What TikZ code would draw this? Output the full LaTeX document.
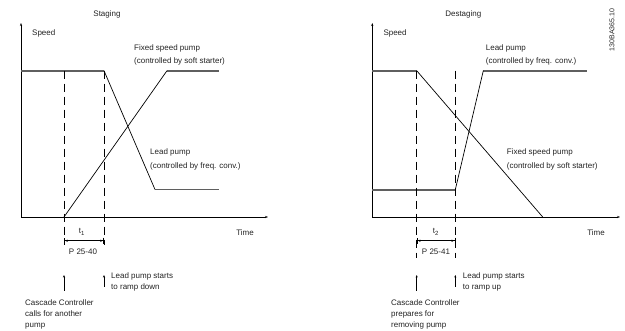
\documentclass[tikz,border=0pt]{standalone}
\usepackage{fontspec}
\setmainfont{Liberation Sans}
\usetikzlibrary{arrows.meta}
\definecolor{flatgray}{RGB}{95,95,95}
\definecolor{txt}{RGB}{35,35,35}
\tikzset{
  axis/.style={line width=0.8pt,-{Stealth[length=3pt,width=2.2pt]}},
  flat/.style={line width=1.7pt,flatgray},
  ramp/.style={line width=0.7pt,black},
  dashv/.style={line width=0.8pt,dash pattern=on 8pt off 5pt},
  dim/.style={line width=0.7pt,{Bar[width=6pt]Latex[length=3pt,width=2.4pt]}-{Latex[length=3pt,width=2.4pt]Bar[width=6pt]}},
  upar/.style={line width=0.6pt,-{Stealth[length=2.5pt,width=2pt]}},
  lbl/.style={inner sep=0pt,text=txt,font=\fontsize{8}{13.5}\selectfont,align=left},
  lbls/.style={inner sep=0pt,text=txt,font=\fontsize{8}{11}\selectfont,align=left},
}
\begin{document}
\begin{tikzpicture}[x=1pt,y=-1pt]
\useasboundingbox (0,0) rectangle (625,331);
% ---------- Staging ----------
\coordinate (O1) at (21,217);
\coordinate (Y1) at (21,23);
\coordinate (X1) at (268,217);
\draw[axis] (O1) -- (Y1);
\draw[axis] (O1) -- (X1);
\coordinate (a1) at (21,70.7);
\coordinate (a2) at (104,70.7);
\coordinate (a3) at (155,189.5);
\coordinate (a4) at (219,189.5);
\coordinate (b1) at (64,217);
\coordinate (b2) at (167,70.7);
\coordinate (b3) at (219,70.7);
\draw[flat] (a1) -- (a2);
\draw[flat] (b2) -- (b3);
\draw[flat] (a3) -- (a4);
\draw[ramp] (a2) -- (a3);
\draw[ramp] (b1) -- (b2);
\coordinate (d1t) at (64,70.7);
\coordinate (d1b) at (64,245);
\coordinate (d2t) at (104,70.7);
\coordinate (d2b) at (104,245);
\draw[dashv] (d1t) -- (d1b);
\draw[dashv] (d2t) -- (d2b);
\coordinate (m1) at (64,240.7);
\coordinate (m2) at (104,240.7);
\draw[dim] (m1) -- (m2);
\node[lbl] (t1) at (82,232) {t\textsubscript{1}};
\node[lbl] (p1) at (83,251.5) {P 25-40};
\node[lbl] (st) at (107,14) {Staging};
\node[lbl,anchor=west] (sp1) at (32,33) {Speed};
\node[lbl] (ti1) at (245,233) {Time};
\node[lbl,anchor=west] (fx1) at (134,55) {Fixed speed pump\\(controlled by soft starter)};
\node[lbl,anchor=west] (ld1) at (150,159.5) {Lead pump\\(controlled by freq. conv.)};
\coordinate (u1b) at (64,291);
\coordinate (u1t) at (64,275);
\coordinate (u2b) at (104,287);
\coordinate (u2t) at (104,275);
\draw[upar] (u1b) -- (u1t);
\draw[upar] (u2b) -- (u2t);
\node[lbls,anchor=west] (ls1) at (111,281.5) {Lead pump starts\\to ramp down};
\node[lbls,anchor=west] (cc1) at (25,314) {Cascade Controller\\calls for another\\pump};
% ---------- Destaging ----------
\coordinate (O2) at (372.3,217);
\coordinate (Y2) at (372.3,23);
\coordinate (X2) at (620,217);
\draw[axis] (O2) -- (Y2);
\draw[axis] (O2) -- (X2);
\coordinate (c1) at (372.3,70.7);
\coordinate (c2) at (416.7,70.7);
\coordinate (c3) at (542.7,217);
\coordinate (e1) at (372.3,189.7);
\coordinate (e2) at (455.3,189.7);
\coordinate (e3) at (483.3,70.7);
\coordinate (e4) at (587.3,70.7);
\draw[flat] (c1) -- (c2);
\draw[flat] (e1) -- (e2);
\draw[flat] (e3) -- (e4);
\draw[ramp] (c2) -- (c3);
\draw[ramp] (e2) -- (e3);
\coordinate (d3t) at (416.7,70.7);
\coordinate (d3b) at (416.7,258);
\coordinate (d4t) at (455.3,70.7);
\coordinate (d4b) at (455.3,258);
\draw[dashv] (d3t) -- (d3b);
\draw[dashv] (d4t) -- (d4b);
\coordinate (m3) at (416.7,240.7);
\coordinate (m4) at (455.3,240.7);
\draw[dim] (m3) -- (m4);
\node[lbl,fill=white,inner sep=1pt] (t2) at (436,232) {t\textsubscript{2}};
\node[lbl,fill=white,inner sep=1pt] (p2) at (436,251.5) {P 25-41};
\node[lbl] (ds) at (463.3,14) {Destaging};
\node[lbl,anchor=west] (sp2) at (383.3,33) {Speed};
\node[lbl] (ti2) at (596,233) {Time};
\node[lbl,anchor=west] (ld2) at (485.7,55) {Lead pump\\(controlled by freq. conv.)};
\node[lbl,anchor=west] (fx2) at (506.7,159.5) {Fixed speed pump\\(controlled by soft starter)};
\coordinate (u3b) at (416.7,291);
\coordinate (u3t) at (416.7,275);
\coordinate (u4b) at (455.3,287);
\coordinate (u4t) at (455.3,275);
\draw[upar] (u3b) -- (u3t);
\draw[upar] (u4b) -- (u4t);
\node[lbls,anchor=west] (ls2) at (462.7,281.5) {Lead pump starts\\to ramp up};
\node[lbls,anchor=west] (cc2) at (391,314) {Cascade Controller\\prepares for\\removing pump};
\node[inner sep=0pt,text=txt,font=\fontsize{7}{8}\selectfont,rotate=90] (id) at (612,30) {130BA365.10};
\end{tikzpicture}
\end{document}
